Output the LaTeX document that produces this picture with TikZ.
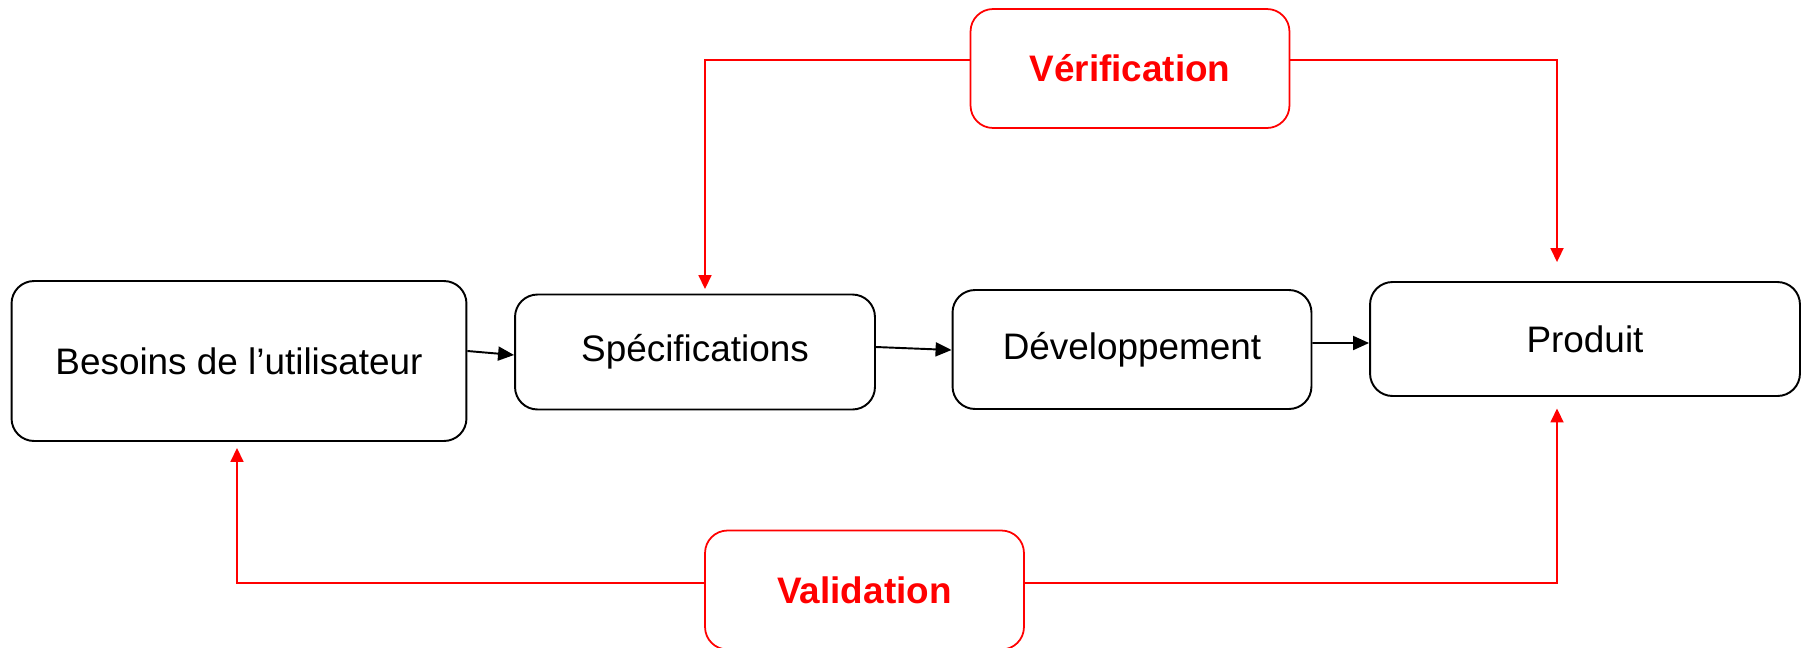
\documentclass[tikz,border=0pt]{standalone}
\usepackage{fontspec}
\setmainfont{Liberation Sans}
\usetikzlibrary{arrows.meta}

\begin{document}
\begin{tikzpicture}[x=0.02cm,y=-0.02cm,
  etape/.style={draw=black,line width=1.1pt,rounded corners=0.45cm,align=center,
    font=\fontsize{21}{25}\selectfont},
  controle/.style={draw=red,line width=1pt,rounded corners=0.45cm,text=red,
    minimum width=6.38cm,minimum height=2.38cm,font=\fontsize{21}{25}\selectfont\bfseries},
  fleche/.style={draw=black,line width=1.1pt,-{Triangle[length=0.32cm,width=0.28cm]}},
  retour/.style={draw=red,line width=1pt,-{Triangle[length=0.28cm,width=0.26cm]}}]
\useasboundingbox (0,0) rectangle (1806,647);
\node[etape,minimum width=9.1cm,minimum height=3.2cm] (besoins) at (239,361) {Besoins de l’utilisateur};
\node[etape,minimum width=7.2cm,minimum height=2.3cm] (spec) at (695,352) {Spécifications};
\node[etape,minimum width=7.18cm,minimum height=2.38cm] (dev) at (1132,349.5) {Développement};
\node[etape,minimum width=8.6cm,minimum height=2.28cm] (prod) at (1585,339) {Produit};
\node[controle] (verif) at (1130,68.5) {Vérification};
\node[controle] (valid) at (864.5,590) {Validation};
% chaine principale
\draw[fleche] ([yshift=0.2cm]besoins.east) -- ([yshift=-0.06cm]spec.west);
\draw[fleche] ([yshift=0.1cm]spec.east) -- ([yshift=-0.01cm]dev.west);
\draw[fleche] ([yshift=0.13cm]dev.east) -- ([yshift=-0.08cm]prod.west);
% verification et validation
\draw[retour] ([yshift=0.17cm]verif.west) -| ([xshift=0.2cm,yshift=0.09cm]spec.north);
\draw[retour,shorten >=0.38cm] ([yshift=0.17cm]verif.east) -| ([xshift=-0.56cm]prod.north);
\draw[retour,shorten >=0.12cm] ([yshift=0.14cm]valid.west) -| ([xshift=-0.04cm]besoins.south);
\draw[retour,shorten >=0.23cm] ([yshift=0.14cm]valid.east) -| ([xshift=-0.56cm]prod.south);
\end{tikzpicture}
\end{document}
